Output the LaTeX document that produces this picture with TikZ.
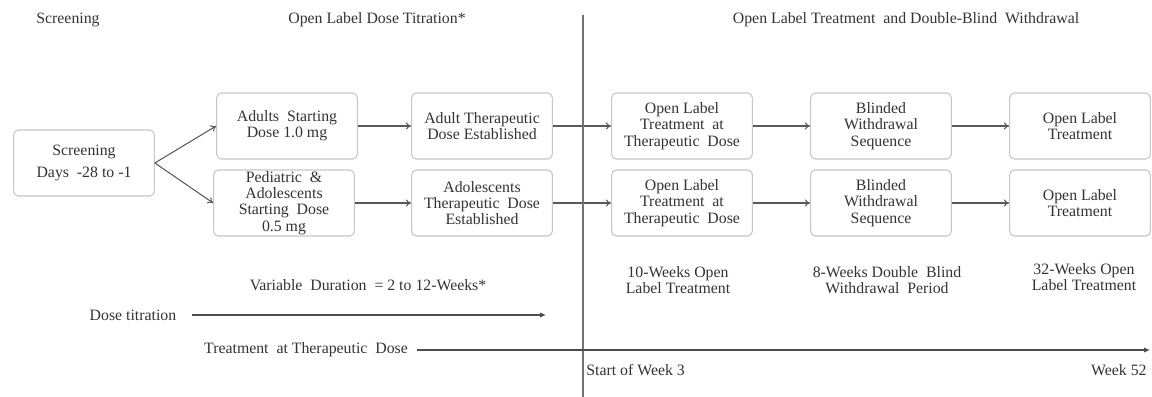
\documentclass[tikz,border=0pt]{standalone}
\usepackage{fontspec}
\setmainfont{Liberation Serif}
\usepackage{tikz}
\usetikzlibrary{arrows.meta}
\usepackage{xcolor}

\begin{document}
\begin{tikzpicture}[
    x=0.03cm, y=-0.03cm,
    every node/.style={font=\fontsize{13.5}{14}\selectfont, text=black!80},
    stagebox/.style={draw=gray!45, line width=0.9pt, rounded corners=4pt, fill=white,
        minimum width=4.22cm, minimum height=1.98cm, inner sep=1pt, align=center},
    lbl/.style={inner sep=1pt, align=center},
    flow/.style={-{To[length=4.5pt,width=6pt]}, line width=0.9pt, draw=black!65},
    tline/.style={-{Latex[length=5pt,width=4.5pt]}, line width=0.9pt, draw=black!70},
    divider/.style={line width=0.9pt, draw=black!55}
]
    \useasboundingbox (0,0) rectangle (1152,397);

    % Headings
    \node[lbl] (hscr) at (68,20) {Screening};
    \node[lbl] (htit) at (377,20) {Open Label Dose Titration*};
    \node[lbl] (hotr) at (906,20) {Open Label Treatment\ \ and Double-Blind\ \ Withdrawal};

    % Divider between titration and treatment
    \coordinate (vtop) at (583,15);
    \coordinate (vbot) at (583,397);

    % Stage boxes
    \node[stagebox] (scr) at (84,163) {Screening\\[4pt]Days\ \ -28 to -1};
    \node[stagebox] (adustart) at (287,126) {Adults\ \ Starting\\Dose 1.0 mg};
    \node[stagebox] (pedstart) at (284,203) {\fontsize{13.5}{15}\selectfont Pediatric\ \ \&\\Adolescents\\Starting\ \ Dose\\0.5 mg};
    \node[stagebox] (adudose) at (482,126) {Adult Therapeutic\\Dose Established};
    \node[stagebox] (adodose) at (482,203) {Adolescents\\Therapeutic\ \ Dose\\Established};
    \node[stagebox] (olt1) at (682,126) {Open Label\\Treatment\ \ at\\Therapeutic\ \ Dose};
    \node[stagebox] (olt2) at (682,203) {Open Label\\Treatment\ \ at\\Therapeutic\ \ Dose};
    \node[stagebox] (bws1) at (881,126) {Blinded\\Withdrawal\\Sequence};
    \node[stagebox] (bws2) at (881,203) {Blinded\\Withdrawal\\Sequence};
    \node[stagebox] (olend1) at (1080,126) {Open Label\\Treatment};
    \node[stagebox] (olend2) at (1080,203) {Open Label\\Treatment};

    % Flow between stages
    \draw[flow] (scr.east) -- (adustart.west);
    \draw[flow] (scr.east) -- (pedstart.west);
    \draw[flow] (adustart) -- (adudose);
    \draw[flow] (pedstart) -- (adodose);
    \draw[flow] (adudose) -- (olt1);
    \draw[flow] (adodose) -- (olt2);
    \draw[flow] (olt1) -- (bws1);
    \draw[flow] (olt2) -- (bws2);
    \draw[flow] (bws1) -- (olend1);
    \draw[flow] (bws2) -- (olend2);

    \draw[divider] (vtop) -- (vbot);

    % Period durations
    \node[lbl] (vdur) at (368,285) {Variable\ \ Duration\ \ = 2 to 12-Weeks*};
    \node[lbl] (p10) at (678,280) {10-Weeks Open\\Label Treatment};
    \node[lbl] (p8) at (887,280) {8-Weeks Double\ \ Blind\\Withdrawal\ \ Period};
    \node[lbl] (p32) at (1084,277) {32-Weeks Open\\Label Treatment};

    % Timelines
    \node[lbl] (dtit) at (133,315) {Dose titration};
    \coordinate (dend) at (546,315);
    \draw[tline, shorten <=12pt] (dtit.east) -- (dend);

    \node[lbl] (ttd) at (306,350) {Treatment\ \ at Therapeutic\ \ Dose};
    \coordinate (tend) at (1150,350);
    \draw[tline, shorten <=7pt] (ttd.east) -- (tend);

    \node[lbl, anchor=west] (sw3) at (585,370) {Start of Week 3};
    \node[lbl, anchor=east] (w52) at (1148,370) {Week 52};
\end{tikzpicture}
\end{document}
